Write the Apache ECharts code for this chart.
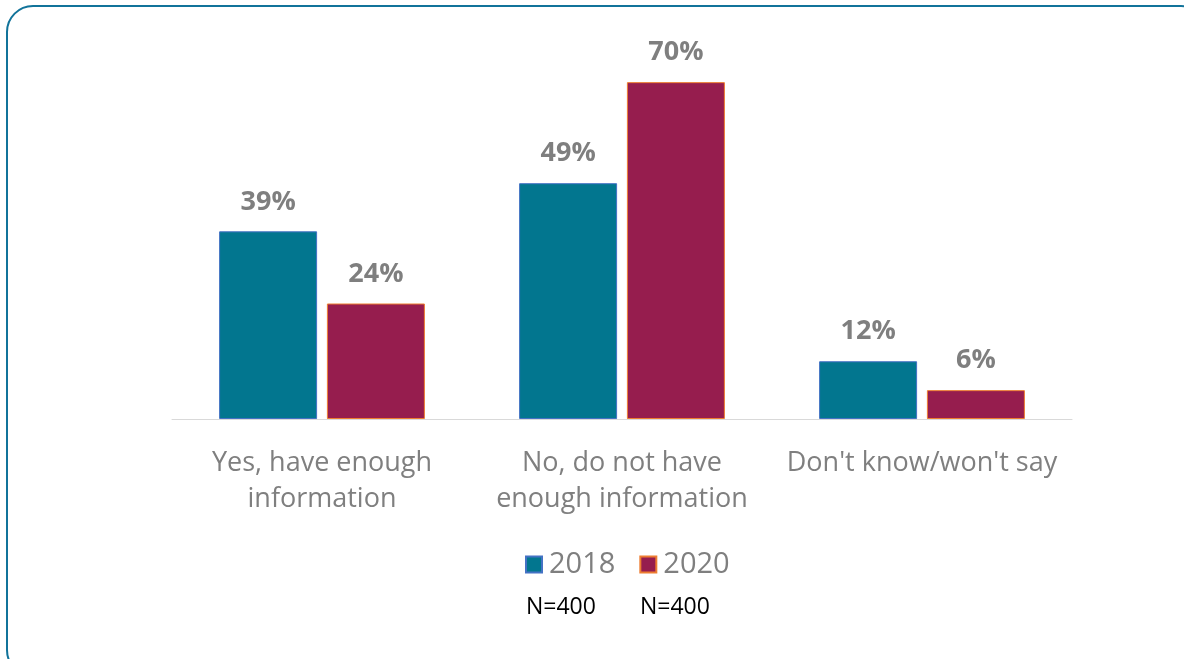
<!DOCTYPE html>
<html>
<head>
<meta charset="utf-8">
<script src="https://cdn.jsdelivr.net/npm/echarts@6/dist/echarts.min.js"></script>
<style>
  html, body { margin: 0; padding: 0; background: #fff; }
  #chart { width: 1184px; height: 659px; }
</style>
</head>
<body>
<div id="chart"></div>
<script>
const FONT = "'Open Sans', sans-serif";
const GREY = "#7f7f7f";

const categories = [
  "Yes, have enough\ninformation",
  "No, do not have\nenough information",
  "Don't know/won't say",
];
const years = ["2018", "2020"];
const values2018 = [39, 49, 12];
const values2020 = [24, 70, 6];
const sampleSizes = ["N=400", "N=400"];

const fills = ["#02768f", "#961d4e"];
const borders = ["#4472c4", "#ed7d31"];

const chart = echarts.init(document.getElementById("chart"), undefined, { renderer: "canvas" });

function barSeries(name, data, idx) {
  return {
    name,
    type: "bar",
    data,
    barWidth: 98,
    barGap: "10%",
    itemStyle: { color: fills[idx], borderColor: borders[idx], borderWidth: 1 },
    label: {
      show: true,
      position: "top",
      distance: 16,
      formatter: "{c}%",
      color: GREY,
      fontFamily: FONT,
      fontWeight: "bold",
      fontSize: 27,
    },
  };
}

chart.setOption({
  animation: false,
  backgroundColor: "#fff",
  grid: { left: 172, right: 112, top: 34, bottom: 240 },
  xAxis: {
    type: "category",
    data: categories,
    axisLine: { lineStyle: { color: "#d9d9d9", width: 1 } },
    axisTick: { show: false },
    axisLabel: {
      color: GREY,
      fontFamily: FONT,
      fontSize: 27,
      lineHeight: 36,
      margin: 26,
      interval: 0,
    },
  },
  yAxis: {
    type: "value",
    min: 0,
    max: 80,
    show: false,
    splitLine: { show: false },
  },
  legend: {
    data: years,
    left: 525,
    top: 550,
    padding: 0,
    itemWidth: 16,
    itemHeight: 16,
    itemGap: 24,
    icon: "rect",
    textStyle: { color: GREY, fontFamily: FONT, fontSize: 29, padding: [0, 0, 0, 2] },
  },
  series: [barSeries(years[0], values2018, 0), barSeries(years[1], values2020, 1)],
  graphic: [
    {
      type: "rect",
      shape: { x: 7, y: 6, width: 1200, height: 670, r: 26 },
      style: { fill: "none", stroke: "#11739a", lineWidth: 2 },
      silent: true,
    },
    ...sampleSizes.map((t, i) => ({
      type: "text",
      left: 526 + i * 114,
      top: 596,
      style: { text: t, fill: "#000", font: "23px " + FONT },
    })),
  ],
});
</script>
</body>
</html>
